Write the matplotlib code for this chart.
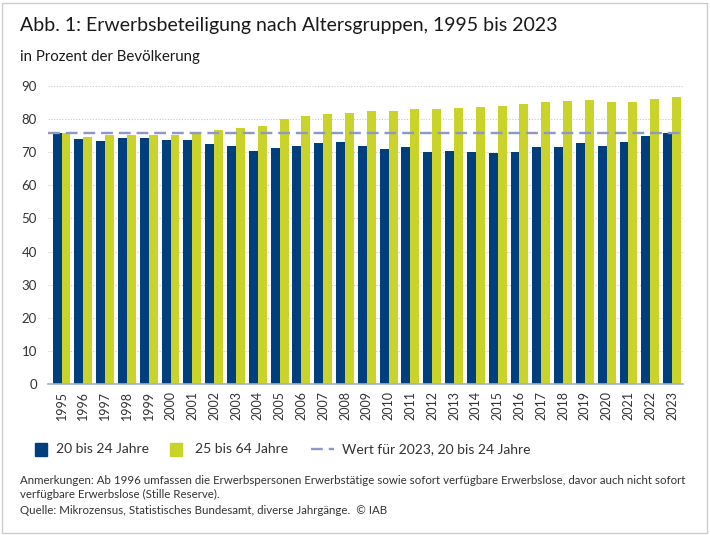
import numpy as np
import matplotlib
matplotlib.use("Agg")
import matplotlib.pyplot as plt
from matplotlib.patches import Rectangle
from matplotlib.lines import Line2D

plt.rcParams['font.family'] = ['Lato', 'DejaVu Sans']

years = [str(y) for y in range(1995, 2024)]
jung = [75.9, 74.0, 73.4, 74.3, 74.3, 73.6, 73.6, 72.4, 72.0, 70.4,
        71.4, 72.0, 72.7, 73.1, 72.0, 71.0, 71.7, 70.1, 70.4, 70.1,
        69.9, 70.1, 71.7, 71.7, 72.7, 72.0, 73.1, 75.0, 75.9]
alle = [75.9, 74.6, 75.1, 75.3, 75.3, 75.3, 75.9, 76.7, 77.3, 77.9,
        80.0, 80.9, 81.6, 81.9, 82.5, 82.5, 83.2, 83.2, 83.5, 83.8,
        84.1, 84.6, 85.2, 85.5, 85.8, 85.2, 85.2, 86.2, 86.8]
ref_2023 = jung[-1]

blau = '#003f7d'
gelb = '#c9d32a'
dash_col = '#8f97c9'
txt = '#333333'

fig = plt.figure(figsize=(7.1, 5.35), dpi=100)
ax = fig.add_axes([48/710, 1-384/535, (683-48)/710, (384-86)/535])

x = np.arange(len(years))
w = 0.41
xmin = -0.62
ax.bar(x - w/2, jung, w, color=blau, zorder=2)
ax.bar(x + w/2, alle, w, color=gelb, zorder=2)
ax.plot([xmin, x[-1] + w], [ref_2023, ref_2023], color=dash_col,
        lw=1.7, dashes=(5, 2.5), zorder=3)

ax.set_xlim(xmin, len(years) - 0.5)
ax.set_ylim(0, 90)
ax.set_yticks(range(0, 91, 10))
ax.set_xticks(x)
ax.set_xticklabels(years, rotation=90, fontsize=9, color=txt)
ax.tick_params(axis='y', length=0, labelsize=9.5, labelcolor=txt, pad=8)
ax.tick_params(axis='x', length=0, pad=5)
ax.yaxis.grid(True, color='#c8c8c8', linestyle=(0, (1, 1.5)), lw=0.8, zorder=0)
for s in ['top', 'right', 'left']:
    ax.spines[s].set_visible(False)
ax.spines['bottom'].set_color('#9fb0c8')
ax.spines['bottom'].set_linewidth(1.2)

fig.text(20/710, 1-26/535, 'Abb. 1: Erwerbsbeteiligung nach Altersgruppen, 1995 bis 2023',
         fontsize=14, color='#1a1a1a', va='center')
fig.text(20/710, 1-57/535, 'in Prozent der Bevölkerung', fontsize=10.8,
         color='#1a1a1a', va='center')

# Legende
ly = 1-449/535
fig.patches.append(Rectangle((35/710, 1-456/535), 12/710, 13/535,
                             transform=fig.transFigure, color=blau))
fig.text(56/710, ly, '20 bis 24 Jahre', fontsize=10, color=txt, va='center')
fig.patches.append(Rectangle((170/710, 1-456/535), 12/710, 13/535,
                             transform=fig.transFigure, color=gelb))
fig.text(195/710, ly, '25 bis 64 Jahre', fontsize=10, color=txt, va='center')
fig.lines.append(Line2D([311/710, 334/710], [ly, ly], transform=fig.transFigure,
                        color=dash_col, lw=1.7, dashes=(5, 2.5)))
fig.text(342/710, ly, 'Wert für 2023, 20 bis 24 Jahre', fontsize=10,
         color=txt, va='center')

fig.text(20/710, 1-480/535,
         'Anmerkungen: Ab 1996 umfassen die Erwerbspersonen Erwerbstätige sowie sofort verfügbare Erwerbslose, davor auch nicht sofort',
         fontsize=8.3, color=txt, va='center')
fig.text(20/710, 1-494/535, 'verfügbare Erwerbslose (Stille Reserve).',
         fontsize=8.3, color=txt, va='center')
fig.text(20/710, 1-511/535,
         'Quelle: Mikrozensus, Statistisches Bundesamt, diverse Jahrgänge.  © IAB',
         fontsize=8.3, color=txt, va='center')

# Rahmen
fig.patches.append(Rectangle((2/710, 2/535), 705/710, 530/535, transform=fig.transFigure,
                             fill=False, edgecolor='#cccccc', lw=1))

fig.savefig('out.png', dpi=100)
